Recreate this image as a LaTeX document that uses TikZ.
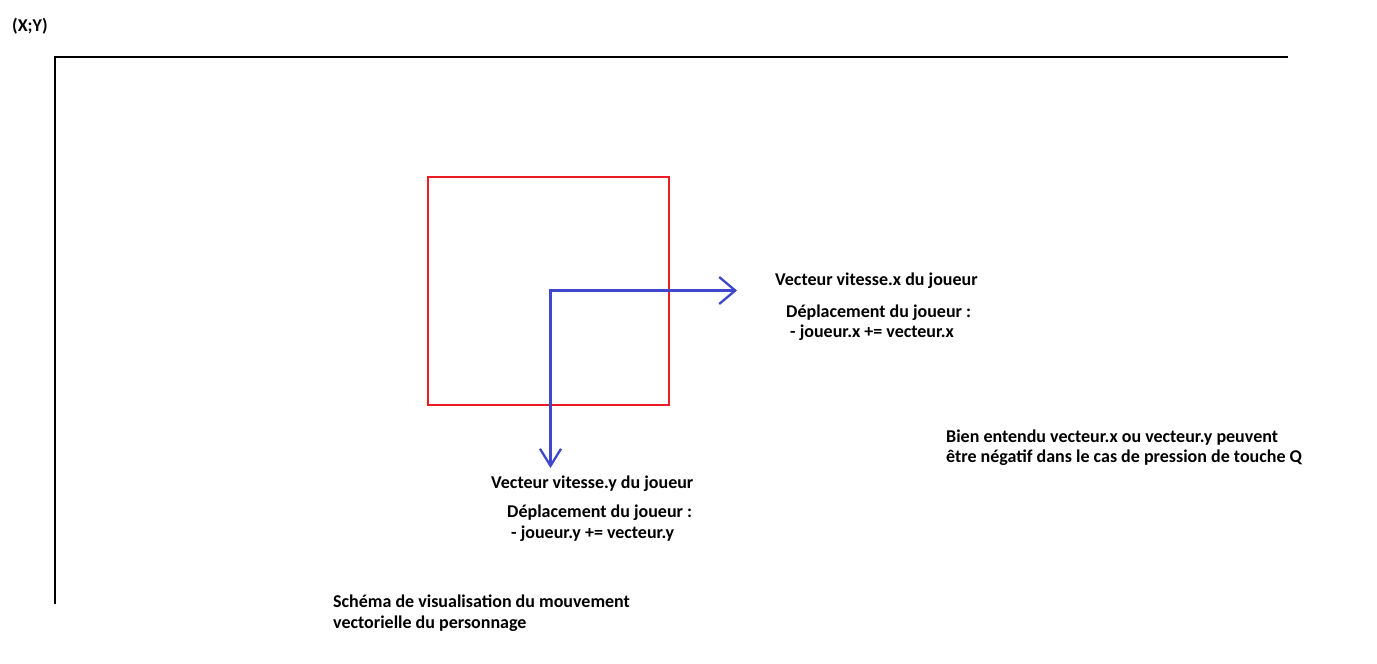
\documentclass[tikz,border=0pt]{standalone}
\usepackage{fontspec}
\setmainfont{Carlito}
\usetikzlibrary{arrows.meta}
\definecolor{rougecadre}{RGB}{237,28,36}
\definecolor{bleuvecteur}{RGB}{63,72,204}
\tikzset{texte/.style = {anchor=base west, inner sep=0pt, font=\bfseries\fontsize{18}{20}\selectfont},
         axe/.style = {line width=2.8pt},
         cadre/.style = {draw=rougecadre, line width=2pt},
         vecteur/.style = {draw=bleuvecteur, line width=2.3pt, line join=miter,
                           {Straight Barb[length=17pt, width=21pt]}-{Straight Barb[length=16pt, width=27pt]}}}

\begin{document}
\begin{tikzpicture}[x = 1pt, y = -1pt]
\useasboundingbox (0,0) rectangle (1377,664);
\fill[white] (0,0) rectangle (1377,664);
% repere
\draw[axe] (55,604) -- (55,57) -- (1288,57);
\node[texte] (origine) at (12,31) {(X;Y)};
% joueur
\draw[cadre] (428,177) rectangle (669,404.5);
\coordinate (pointy) at (550.5,468);
\coordinate (coin) at (550.5,290.5);
\coordinate (pointx) at (737,290.5);
\draw[vecteur] (pointy) -- (coin) -- (pointx);
% legendes
\node[texte] (vitx) at (775,285) {Vecteur vitesse.x du joueur};
\node[texte] (depx) at (786,317) {Déplacement du joueur :};
\node[texte] (formx) at (790,337) {- joueur.x += vecteur.x};
\node[texte] (vity) at (491,488) {Vecteur vitesse.y du joueur};
\node[texte] (depy) at (507,517) {Déplacement du joueur :};
\node[texte] (formy) at (511,538) {- joueur.y += vecteur.y};
\node[texte] (note1) at (946,442) {Bien entendu vecteur.x ou vecteur.y peuvent};
\node[texte] (note2) at (946,462) {être négatif dans le cas de pression de touche Q};
\node[texte] (titre1) at (333,607) {Schéma de visualisation du mouvement};
\node[texte] (titre2) at (333,628) {vectorielle du personnage};
\end{tikzpicture}
\end{document}
